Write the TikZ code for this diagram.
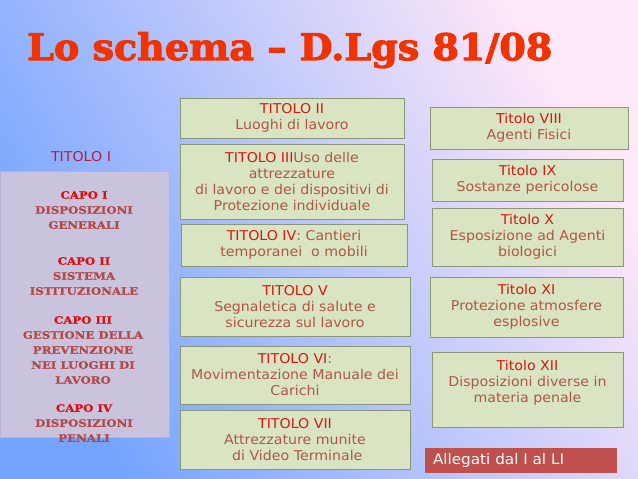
\documentclass[tikz,border=0pt]{standalone}
\usepackage{fontspec}
\usetikzlibrary{positioning}
\newfontfamily\bodyfont[FakeStretch=1.05]{DejaVu Sans}
\newfontfamily\capofont[FakeStretch=1.15,FakeBold=1]{DejaVu Serif Bold}
\newfontfamily\titlefont[FakeStretch=1.04,FakeBold=3]{DejaVu Serif Bold}
\definecolor{bgbl}{HTML}{74A4FF}
\definecolor{bgmid}{HTML}{C2CBF8}
\definecolor{bgtr}{HTML}{FFE8F8}
\definecolor{boxfill}{HTML}{D9E4C2}
\definecolor{boxline}{HTML}{8A9878}
\definecolor{titred}{HTML}{D41A10}
\definecolor{brownt}{HTML}{B05646}
\definecolor{titlecol}{HTML}{F03300}
\definecolor{panelfill}{HTML}{CAC3DD}
\definecolor{panelline}{HTML}{B8B2D2}
\definecolor{capored}{HTML}{DC1010}
\definecolor{capobody}{HTML}{B44848}
\definecolor{titoloone}{HTML}{B41E40}
\definecolor{allegred}{HTML}{C0504D}
\newcommand{\titr}[1]{\textcolor{titred}{#1}}
\newcommand{\capr}[1]{\textcolor{capored}{#1}}
\tikzset{
  tbox/.style={draw=boxline, fill=boxfill, line width=0.8pt, inner sep=0pt,
    align=center, text=brownt, font=\bodyfont\fontsize{13.5}{16}\selectfont},
  capotext/.style={align=center, text=capobody, inner sep=0pt,
    font=\capofont\fontsize{10.2}{15}\selectfont},
}
\begin{document}
\begin{tikzpicture}[x=1pt,y=-1pt]
\useasboundingbox (0,0) rectangle (638,479);
\shade[shading=axis, bottom color=bgbl, middle color=bgmid, top color=bgtr, shading angle=-60]
  (0,0) rectangle (638,479);
% title
\node[anchor=base west, inner sep=0pt, text=titlecol,
  font=\titlefont\fontsize{36.6}{36}\selectfont] (title) at (27,60) {Lo schema – D.Lgs 81/08};
% left panel
\node[draw=panelline, fill=panelfill, line width=0.6pt, minimum width=169, minimum height=266,
  inner sep=0pt] (panel) at (84.5,304) {};
\node[text=titoloone, inner sep=0pt, font=\bodyfont\fontsize{13.5}{16}\selectfont] (t1) at (81,157) {TITOLO I};
\node[capotext] (capo1) at (84,210) {\capr{CAPO I}\\DISPOSIZIONI\\GENERALI};
\node[capotext] (capo2) at (84,276) {\capr{CAPO II}\\SISTEMA\\ISTITUZIONALE};
\node[capotext] (capo3) at (83,350) {\capr{CAPO III}\\GESTIONE DELLA\\PREVENZIONE\\NEI LUOGHI DI\\LAVORO};
\node[capotext] (capo4) at (84,423) {\capr{CAPO IV}\\DISPOSIZIONI\\PENALI};
% middle column
\node[tbox, minimum width=224, minimum height=40] (t2) at (292,118)
  {\titr{TITOLO II}\\Luoghi di lavoro};
\node[tbox, minimum width=224, minimum height=75] (t3) at (292,181.5)
  {\titr{TITOLO III}Uso delle\\attrezzature\\di lavoro e dei dispositivi di\\Protezione individuale};
\node[tbox, minimum width=226, minimum height=42] (t4) at (294,245)
  {\titr{TITOLO IV}: Cantieri\\temporanei\ \ o mobili};
\node[tbox, minimum width=230, minimum height=59] (t5) at (295,306.5)
  {\titr{TITOLO V}\\Segnaletica di salute e\\sicurezza sul lavoro};
\node[tbox, minimum width=230, minimum height=58] (t6) at (295,375)
  {\titr{TITOLO VI}:\\Movimentazione Manuale dei\\Carichi};
\node[tbox, minimum width=230, minimum height=59] (t7) at (295,439.5)
  {\titr{TITOLO VII}\\Attrezzature munite\\\ di Video Terminale};
% right column
\node[tbox, minimum width=198, minimum height=42] (t8) at (529,128)
  {\titr{Titolo VIII}\\Agenti Fisici};
\node[tbox, minimum width=191, minimum height=42] (t9) at (527.5,180)
  {\titr{Titolo IX}\\Sostanze pericolose};
\node[tbox, minimum width=191, minimum height=58] (t10) at (527.5,237)
  {\titr{Titolo X}\\Esposizione ad Agenti\\biologici};
\node[tbox, minimum width=193, minimum height=60] (t11) at (526.5,307)
  {\titr{Titolo XI}\\Protezione atmosfere\\esplosive};
\node[tbox, minimum width=191, minimum height=75] (t12) at (527.5,389.5)
  {\titr{Titolo XII}\\Disposizioni diverse in\\materia penale\\\mbox{}};
\node[fill=allegred, minimum width=192, minimum height=25, inner xsep=8pt, inner ysep=0pt,
  text width=176, align=left, text=white, font=\bodyfont\fontsize{14.5}{16}\selectfont]
  (alleg) at (521,460.5) {Allegati dal I al LI};
\end{tikzpicture}
\end{document}
